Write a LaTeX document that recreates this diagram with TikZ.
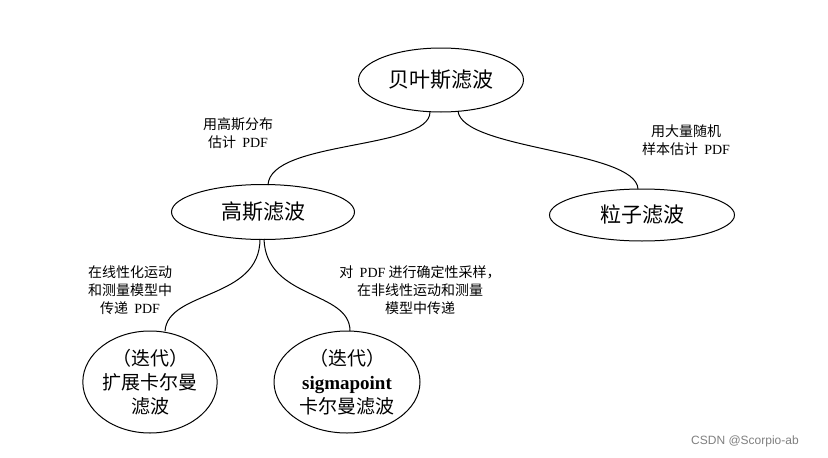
\documentclass[tikz,border=0pt]{standalone}
\usepackage{fontspec}
\setmainfont{Liberation Serif}
\newfontfamily\cjk{Noto Sans CJK SC}
\usetikzlibrary{shapes.geometric}
\begin{document}
\begin{tikzpicture}[x=1pt,y=-1pt,
  el/.style={ellipse,draw,line width=1pt,inner sep=0pt},
  big/.style={font=\cjk\fontsize{21}{25}\selectfont,align=center},
  lbl/.style={font=\cjk\fontsize{14}{18}\selectfont,align=center},
  con/.style={line width=1pt}]
\useasboundingbox[fill=white] (0,0) rectangle (828,458);
\node[el,minimum width=165pt,minimum height=64pt,big] (b) at (441,80) {贝叶斯滤波};
\node[el,minimum width=183pt,minimum height=55pt,big] (g) at (263,212) {高斯滤波};
\node[el,minimum width=185pt,minimum height=52pt,big] (p) at (642,215) {粒子滤波};
\node[el,minimum width=132pt,minimum height=102pt,big,font=\cjk\fontsize{19}{24}\selectfont] (e) at (150,382) {（迭代）\\扩展卡尔曼\\滤波};
\node[el,minimum width=146pt,minimum height=102pt,big,font=\cjk\fontsize{19}{24}\selectfont] (s) at (347,382) {（迭代）\\{\rmfamily\bfseries sigmapoint}\\卡尔曼滤波};
\draw[con] (430,112) .. controls (430,150) and (270,140) .. (268,185);
\draw[con] (458,111) .. controls (462,150) and (636,150) .. (638,189);
\draw[con] (260,239) .. controls (260,300) and (168,290) .. (165,331);
\draw[con] (264,239) .. controls (266,300) and (350,290) .. (350,331);
\node[lbl] (l1) at (238,133) {用高斯分布\\估计\ \ {\rmfamily PDF}};
\node[lbl] (l2) at (686,140) {用大量随机\\样本估计\ \ {\rmfamily PDF}};
\node[lbl] (l3) at (130,290) {在线性化运动\\和测量模型中\\传递\ \ {\rmfamily PDF}};
\node[lbl] (l4) at (420,290) {对\ \ {\rmfamily PDF} 进行确定性采样，\\在非线性运动和测量\\模型中传递};
\node[font=\fontspec{Liberation Sans}\fontsize{12}{14}\selectfont,text=gray] (w) at (745,441) {CSDN @Scorpio-ab};
\end{tikzpicture}
\end{document}
